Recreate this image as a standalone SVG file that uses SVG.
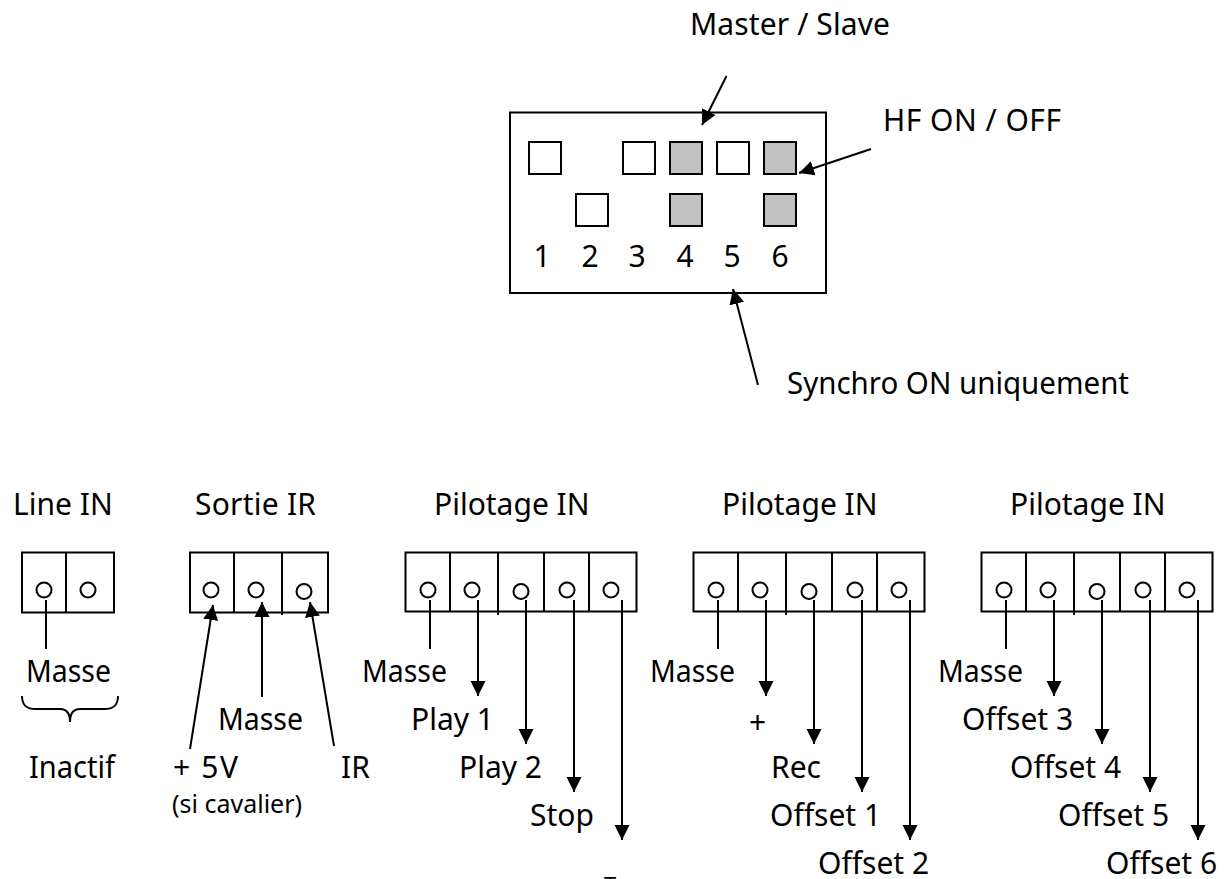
<svg xmlns="http://www.w3.org/2000/svg" width="1227" height="879" viewBox="0 0 1227 879">
<style>
text{font-family:"Noto Sans","DejaVu Sans",sans-serif;font-size:30px;fill:#000}
.small{font-size:25px}
.frag{font-size:22px}
.m{text-anchor:middle}
.b{fill:#fff;stroke:#000;stroke-width:2}
.g{fill:#c0c0c0;stroke:#000;stroke-width:2}
.p{fill:#fff;stroke:#000;stroke-width:2}
.l{fill:none;stroke:#000;stroke-width:2}
.a{fill:none;stroke:#000;stroke-width:2;marker-end:url(#ah)}
</style>
<defs>
<marker id="ah" markerUnits="userSpaceOnUse" markerWidth="17" markerHeight="17" refX="15" refY="8" orient="auto"><path d="M0 0.5L15 8L0 15.5Z" fill="#000"/></marker>
<g id="c5">
<rect class="b" x="405.5" y="552.5" width="231" height="59"/>
<path class="l" d="M450 552V612M498 552V615M544 552V612M589 552V612"/>
<circle class="p" cx="428" cy="590" r="7.5"/><circle class="p" cx="472" cy="590" r="7.5"/><circle class="p" cx="521" cy="591.5" r="7.5"/><circle class="p" cx="567" cy="590" r="7.5"/><circle class="p" cx="611" cy="590" r="7.5"/>
</g>
<g id="w5">
<path class="l" d="M430 600V649"/>
<path class="a" d="M478 600V696"/><path class="a" d="M526 600V744"/><path class="a" d="M574 600V792"/><path class="a" d="M622 600V840"/>
</g>
</defs>
<g id="dip">
<rect class="b" x="510" y="112.5" width="316" height="180.5"/>
<rect class="b" x="529" y="142" width="32" height="32"/><rect class="b" x="623" y="142" width="32" height="32"/><rect class="g" x="670" y="142" width="32" height="32"/><rect class="b" x="717" y="142" width="32" height="32"/><rect class="g" x="764" y="142" width="32" height="32"/>
<rect class="b" x="576" y="194" width="32" height="32"/><rect class="g" x="670" y="194" width="32" height="32"/><rect class="g" x="764" y="194" width="32" height="32"/>
<text class="m" x="542" y="267">1</text><text class="m" x="590" y="267">2</text><text class="m" x="637" y="267">3</text><text class="m" x="685" y="267">4</text><text class="m" x="732" y="267">5</text><text class="m" x="780" y="267">6</text>
</g>
<g id="line-in"><rect class="b" x="22" y="552.5" width="92" height="60"/><path class="l" d="M66 552V612"/><circle class="p" cx="44" cy="590" r="7.5"/><circle class="p" cx="88" cy="590" r="7.5"/></g>
<g id="sortie-ir"><rect class="b" x="190" y="552.5" width="138" height="60"/><path class="l" d="M234 552V612M282 552V615"/><circle class="p" cx="211" cy="590" r="7.5"/><circle class="p" cx="256" cy="590" r="7.5"/><circle class="p" cx="304" cy="591.5" r="7.5"/></g>
<g id="pilotage-1"><use href="#c5"/></g>
<g id="pilotage-2"><use href="#c5" x="288"/></g>
<g id="pilotage-3"><use href="#c5" x="576"/></g>
<g id="connectors">
<path class="a" d="M726.5 76L702 125"/><path class="a" d="M871 149L799 173"/><path class="a" d="M758 385L733 289"/>
<path class="l" d="M46 600V649"/>
<path class="l" d="M22 696C22 705 26 709 36 709H60C66 709 70 713 70 722C70 713 74 709 80 709H104C114 709 118 705 118 696"/>
<path class="a" d="M190 749L213 605"/><path class="a" d="M262 697V602"/><path class="a" d="M334 746L310 602"/>
<use href="#w5"/><use href="#w5" x="288"/><use href="#w5" x="576"/>
</g>
<g id="labels">
<text x="690" y="35" textLength="200">Master / Slave</text><text x="883" y="131" textLength="178">HF ON / OFF</text><text x="787" y="394" textLength="342" lengthAdjust="spacingAndGlyphs">Synchro ON uniquement</text>
<text x="13" y="515">Line IN</text><text x="195" y="515" textLength="121">Sortie IR</text><text x="434" y="515">Pilotage IN</text><text x="722" y="515">Pilotage IN</text><text x="1010" y="515">Pilotage IN</text>
<text x="26" y="682" textLength="85" lengthAdjust="spacingAndGlyphs">Masse</text><text x="29" y="778" textLength="86" lengthAdjust="spacingAndGlyphs">Inactif</text><text x="218" y="730" textLength="85" lengthAdjust="spacingAndGlyphs">Masse</text><text x="173" y="778" textLength="65">+ 5V</text><text x="341" y="778">IR</text><text class="small" x="172" y="813">(si cavalier)</text>
<text x="362" y="682" textLength="85" lengthAdjust="spacingAndGlyphs">Masse</text><text x="411" y="730">Play 1</text><text x="459" y="778">Play 2</text><text x="530" y="826">Stop</text><text class="frag" x="604" y="893">T</text>
<text x="650" y="682" textLength="85" lengthAdjust="spacingAndGlyphs">Masse</text><text x="749" y="733">+</text><text x="771" y="778">Rec</text><text x="770" y="826">Offset 1</text><text x="818" y="874">Offset 2</text>
<text x="938" y="682" textLength="85" lengthAdjust="spacingAndGlyphs">Masse</text><text x="962" y="730">Offset 3</text><text x="1010" y="778">Offset 4</text><text x="1058" y="826">Offset 5</text><text x="1106" y="874">Offset 6</text>
</g>
</svg>
